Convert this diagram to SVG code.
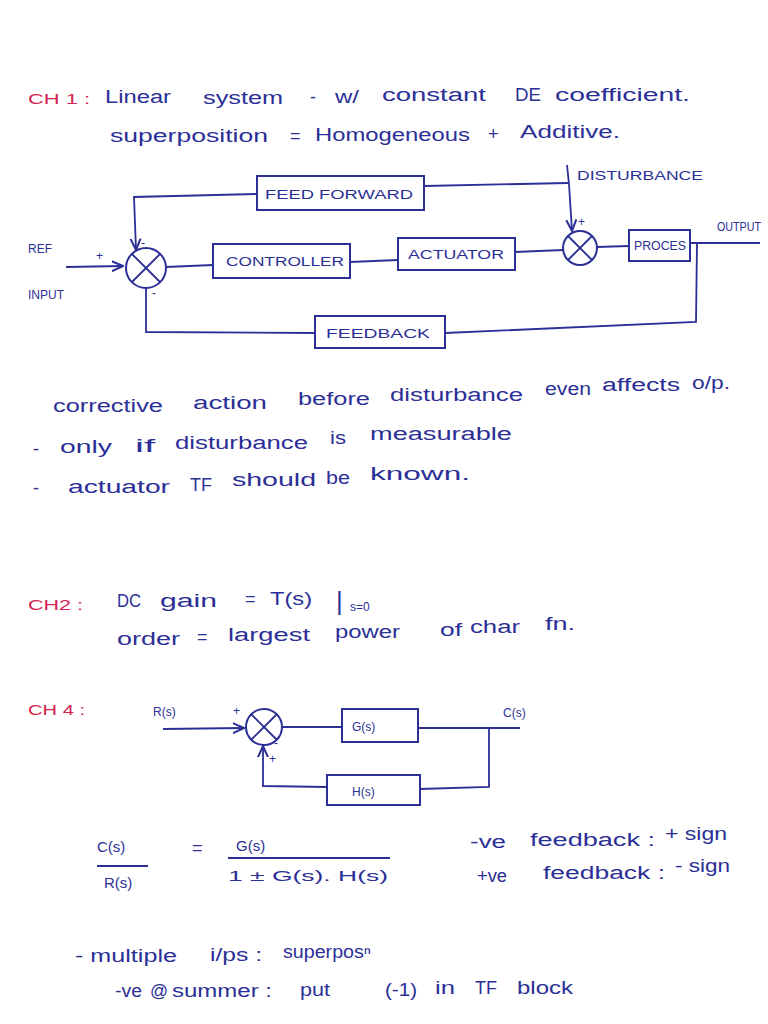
<svg xmlns="http://www.w3.org/2000/svg" width="768" height="1024" viewBox="0 0 768 1024">
<defs>
<style>
.ink{fill:#2b2f96;font-family:"Liberation Sans",Arial,sans-serif}
.red{fill:#d3234f;font-family:"Liberation Sans",Arial,sans-serif}
.box{fill:none;stroke:#2b2f96;stroke-width:2}
.ln{fill:none;stroke:#2b2f96;stroke-width:1.8}
.lbl{fill:#2b2f96;font-family:"Liberation Sans",Arial,sans-serif;font-size:12px}
.w{fill:#2b2f96;font-family:"Liberation Sans",Arial,sans-serif;font-size:18px}
</style>
<marker id="arr" viewBox="0 0 10 10" refX="9" refY="5" markerWidth="7" markerHeight="7" orient="auto">
<path d="M0,1 L9,5 L0,9" fill="none" stroke="#2b2f96" stroke-width="1.6"/>
</marker>
</defs>
<rect width="768" height="1024" fill="#ffffff"/>

<!-- CH1 text -->
<text class="red" x="28" y="104" font-size="15" textLength="62" lengthAdjust="spacingAndGlyphs">CH 1 :</text>
<g id="ch1-lines" lengthAdjust="spacingAndGlyphs">
<text class="w" x="105" y="103" textLength="66" lengthAdjust="spacingAndGlyphs">Linear</text>
<text class="w" x="203" y="104" textLength="80" lengthAdjust="spacingAndGlyphs">system</text>
<text class="w" x="310" y="103">-</text>
<text class="w" x="335" y="103" textLength="24" lengthAdjust="spacingAndGlyphs">w/</text>
<text class="w" x="382" y="101" textLength="104" lengthAdjust="spacingAndGlyphs">constant</text>
<text class="w" x="515" y="101" textLength="26" lengthAdjust="spacingAndGlyphs">DE</text>
<text class="w" x="555" y="101" textLength="135" lengthAdjust="spacingAndGlyphs">coefficient.</text>
<text class="w" x="110" y="142" textLength="158" lengthAdjust="spacingAndGlyphs">superposition</text>
<text class="w" x="290" y="142">=</text>
<text class="w" x="315" y="141" textLength="155" lengthAdjust="spacingAndGlyphs">Homogeneous</text>
<text class="w" x="488" y="140">+</text>
<text class="w" x="520" y="138" textLength="100" lengthAdjust="spacingAndGlyphs">Additive.</text>
</g>

<!-- CH1 diagram connectors -->
<g id="connectors1">
<polyline class="ln" points="257,194 134,197 136,250" marker-end="url(#arr)"/>
<line class="ln" x1="424" y1="186" x2="568" y2="183"/>
<polyline class="ln" points="567,165 569,184 572,231" marker-end="url(#arr)"/>
<line class="ln" x1="66" y1="267" x2="123" y2="266" marker-end="url(#arr)"/>
<line class="ln" x1="166" y1="267" x2="213" y2="265"/>
<line class="ln" x1="350" y1="262" x2="398" y2="260"/>
<line class="ln" x1="515" y1="252" x2="563" y2="250"/>
<line class="ln" x1="597" y1="247" x2="629" y2="246"/>
<line class="ln" x1="690" y1="243" x2="760" y2="243"/>
<polyline class="ln" points="697,243 696,322 445,333"/>
<polyline class="ln" points="315,333 146,332 146,288"/>
</g>

<g id="sum1">
<circle class="box" cx="146" cy="268" r="20"/>
<line class="ln" x1="132" y1="254" x2="160" y2="282"/>
<line class="ln" x1="160" y1="254" x2="132" y2="282"/>
<text class="lbl" x="96" y="260">+</text>
<text class="lbl" x="152" y="297" font-size="14">-</text>
<text class="lbl" x="141" y="247" font-size="11">-</text>
</g>
<g id="sum2">
<circle class="box" cx="580" cy="248" r="17"/>
<line class="ln" x1="568" y1="236" x2="592" y2="260"/>
<line class="ln" x1="592" y1="236" x2="568" y2="260"/>
<text class="lbl" x="578" y="226">+</text>
</g>
<g id="feedforward">
<rect class="box" x="257" y="176" width="167" height="34"/>
<text class="lbl" x="265" y="199" font-size="14" textLength="148" lengthAdjust="spacingAndGlyphs">FEED  FORWARD</text>
</g>
<g id="controller">
<rect class="box" x="213" y="244" width="137" height="34"/>
<text class="lbl" x="226" y="266" font-size="14" textLength="118" lengthAdjust="spacingAndGlyphs">CONTROLLER</text>
</g>
<g id="actuator">
<rect class="box" x="398" y="238" width="117" height="32"/>
<text class="lbl" x="408" y="259" font-size="14" textLength="96" lengthAdjust="spacingAndGlyphs">ACTUATOR</text>
</g>
<g id="process">
<rect class="box" x="629" y="230" width="61" height="31"/>
<text class="lbl" x="634" y="250" font-size="12" textLength="52" lengthAdjust="spacingAndGlyphs">PROCES</text>
</g>
<g id="feedback">
<rect class="box" x="315" y="316" width="130" height="32"/>
<text class="lbl" x="326" y="338" font-size="14" textLength="104" lengthAdjust="spacingAndGlyphs">FEEDBACK</text>
</g>
<g id="labels1">
<text class="lbl" x="28" y="253" font-size="11">REF</text>
<text class="lbl" x="28" y="299" font-size="11">INPUT</text>
<text class="lbl" x="577" y="180" font-size="13" textLength="126" lengthAdjust="spacingAndGlyphs">DISTURBANCE</text>
<text class="lbl" x="717" y="231" font-size="10" textLength="44" lengthAdjust="spacingAndGlyphs">OUTPUT</text>
</g>

<!-- notes -->
<g id="notes">
<text class="w" x="53" y="412" textLength="110" lengthAdjust="spacingAndGlyphs">corrective</text>
<text class="w" x="193" y="409" textLength="74" lengthAdjust="spacingAndGlyphs">action</text>
<text class="w" x="298" y="405" textLength="72" lengthAdjust="spacingAndGlyphs">before</text>
<text class="w" x="390" y="401" textLength="133" lengthAdjust="spacingAndGlyphs">disturbance</text>
<text class="w" x="545" y="395" textLength="46" lengthAdjust="spacingAndGlyphs">even</text>
<text class="w" x="602" y="391" textLength="78" lengthAdjust="spacingAndGlyphs">affects</text>
<text class="w" x="692" y="389" textLength="38" lengthAdjust="spacingAndGlyphs">o/p.</text>
<text class="w" x="33" y="455">-</text>
<text class="w" x="60" y="453" textLength="52" lengthAdjust="spacingAndGlyphs">only</text>
<text class="w" x="135" y="452" textLength="20" lengthAdjust="spacingAndGlyphs">if</text>
<text class="w" x="175" y="449" textLength="133" lengthAdjust="spacingAndGlyphs">disturbance</text>
<text class="w" x="330" y="444" textLength="16" lengthAdjust="spacingAndGlyphs">is</text>
<text class="w" x="370" y="440" textLength="142" lengthAdjust="spacingAndGlyphs">measurable</text>
<text class="w" x="33" y="494">-</text>
<text class="w" x="68" y="493" textLength="102" lengthAdjust="spacingAndGlyphs">actuator</text>
<text class="w" x="190" y="491" textLength="22" lengthAdjust="spacingAndGlyphs">TF</text>
<text class="w" x="232" y="486" textLength="84" lengthAdjust="spacingAndGlyphs">should</text>
<text class="w" x="326" y="484" textLength="24" lengthAdjust="spacingAndGlyphs">be</text>
<text class="w" x="370" y="480" textLength="100" lengthAdjust="spacingAndGlyphs">known.</text>
</g>

<!-- CH2 -->
<text class="red" x="28" y="610" font-size="15" textLength="55" lengthAdjust="spacingAndGlyphs">CH2 :</text>
<g id="ch2">
<text class="w" x="117" y="607" textLength="24" lengthAdjust="spacingAndGlyphs">DC</text>
<text class="w" x="160" y="607" textLength="57" lengthAdjust="spacingAndGlyphs">gain</text>
<text class="w" x="245" y="605">=</text>
<text class="w" x="270" y="605" textLength="42" lengthAdjust="spacingAndGlyphs">T(s)</text>
<text class="ink" x="336" y="610" font-size="26">|</text>
<text class="ink" x="350" y="611" font-size="12">s=0</text>
<text class="w" x="117" y="645" textLength="63" lengthAdjust="spacingAndGlyphs">order</text>
<text class="w" x="197" y="643">=</text>
<text class="w" x="228" y="641" textLength="82" lengthAdjust="spacingAndGlyphs">largest</text>
<text class="w" x="335" y="638" textLength="65" lengthAdjust="spacingAndGlyphs">power</text>
<text class="w" x="440" y="636" textLength="22" lengthAdjust="spacingAndGlyphs">of</text>
<text class="w" x="470" y="633" textLength="50" lengthAdjust="spacingAndGlyphs">char</text>
<text class="w" x="545" y="630" textLength="30" lengthAdjust="spacingAndGlyphs">fn.</text>
</g>

<!-- CH4 -->
<text class="red" x="28" y="715" font-size="14" textLength="57" lengthAdjust="spacingAndGlyphs">CH 4 :</text>
<g id="connectors4">
<line class="ln" x1="163" y1="729" x2="244" y2="728" marker-end="url(#arr)"/>
<line class="ln" x1="282" y1="727" x2="342" y2="727"/>
<line class="ln" x1="418" y1="728" x2="520" y2="728"/>
<polyline class="ln" points="489,728 489,787 420,789"/>
<polyline class="ln" points="327,787 263,786 263,746" marker-end="url(#arr)"/>
</g>
<g id="sum4">
<circle class="box" cx="264" cy="727" r="18"/>
<line class="ln" x1="251" y1="714" x2="277" y2="740"/>
<line class="ln" x1="277" y1="714" x2="251" y2="740"/>
<text class="lbl" x="233" y="715">+</text>
<text class="lbl" x="269" y="763">+</text>
<text class="lbl" x="274" y="747" font-size="10">-</text>
</g>
<g id="G">
<rect class="box" x="342" y="709" width="76" height="33"/>
<text class="lbl" x="352" y="731" font-size="14">G(s)</text>
</g>
<g id="H">
<rect class="box" x="327" y="775" width="93" height="30"/>
<text class="lbl" x="352" y="796" font-size="14">H(s)</text>
</g>
<text class="lbl" x="153" y="716" font-size="14">R(s)</text>
<text class="lbl" x="503" y="717" font-size="14">C(s)</text>

<!-- formula -->
<g id="formula">
<text class="ink" x="97" y="852" font-size="15">C(s)</text>
<line class="ln" x1="97" y1="866" x2="148" y2="866"/>
<text class="ink" x="104" y="888" font-size="15">R(s)</text>
<text class="ink" x="192" y="854" font-size="18">=</text>
<text class="ink" x="236" y="851" font-size="15">G(s)</text>
<line class="ln" x1="228" y1="858" x2="390" y2="858"/>
<text class="ink" x="228" y="881" font-size="15" textLength="160" lengthAdjust="spacingAndGlyphs">1 ± G(s). H(s)</text>
</g>
<g id="signs">
<text class="w" x="470" y="848" textLength="36" lengthAdjust="spacingAndGlyphs">-ve</text>
<text class="w" x="530" y="846" textLength="125" lengthAdjust="spacingAndGlyphs">feedback :</text>
<text class="w" x="665" y="840" textLength="62" lengthAdjust="spacingAndGlyphs">+ sign</text>
<text class="w" x="477" y="882" textLength="30" lengthAdjust="spacingAndGlyphs">+ve</text>
<text class="w" x="543" y="879" textLength="122" lengthAdjust="spacingAndGlyphs">feedback :</text>
<text class="w" x="675" y="872" textLength="55" lengthAdjust="spacingAndGlyphs">- sign</text>
</g>
<g id="bottom">
<text class="w" x="75" y="962" textLength="102" lengthAdjust="spacingAndGlyphs">- multiple</text>
<text class="w" x="210" y="961" textLength="52" lengthAdjust="spacingAndGlyphs">i/ps :</text>
<text class="w" x="283" y="958" textLength="88" lengthAdjust="spacingAndGlyphs">superposⁿ</text>
<text class="w" x="115" y="997" textLength="27" lengthAdjust="spacingAndGlyphs">-ve</text>
<text class="w" x="150" y="997" textLength="18" lengthAdjust="spacingAndGlyphs">@</text>
<text class="w" x="172" y="997" textLength="100" lengthAdjust="spacingAndGlyphs">summer :</text>
<text class="w" x="300" y="996" textLength="30" lengthAdjust="spacingAndGlyphs">put</text>
<text class="w" x="385" y="996" textLength="32" lengthAdjust="spacingAndGlyphs">(-1)</text>
<text class="w" x="435" y="994" textLength="20" lengthAdjust="spacingAndGlyphs">in</text>
<text class="w" x="475" y="994" textLength="22" lengthAdjust="spacingAndGlyphs">TF</text>
<text class="w" x="517" y="994" textLength="56" lengthAdjust="spacingAndGlyphs">block</text>
</g>
</svg>
